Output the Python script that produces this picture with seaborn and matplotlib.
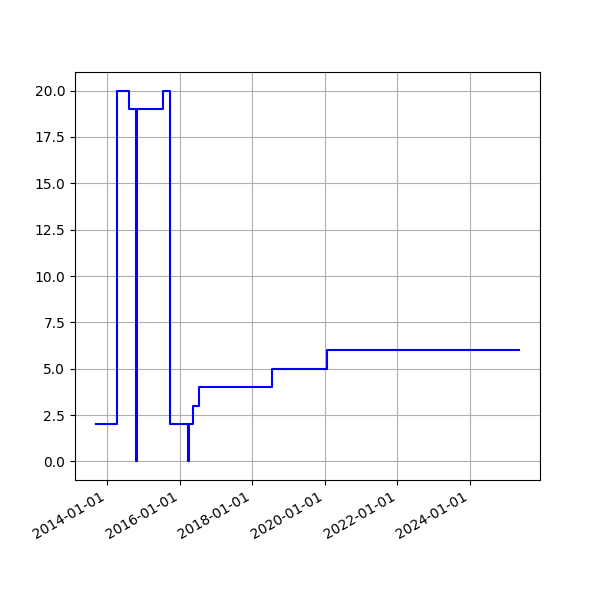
import matplotlib
matplotlib.use("Agg")
import matplotlib.pyplot as plt
import matplotlib.dates as mdates
import pandas as pd
import seaborn as sns

dates = [
    "2013-09-13", "2014-04-15", "2014-08-10", "2014-10-24", "2014-10-29",
    "2015-07-17", "2015-09-24", "2016-03-28", "2016-04-09", "2016-05-13",
    "2016-07-12", "2018-07-14", "2020-01-26", "2025-05-07",
]
values = [2, 20, 19, 0, 19, 20, 2, 0, 2, 3, 4, 5, 6, 6]

df = pd.DataFrame({"date": pd.to_datetime(dates), "value": values})

fig, ax = plt.subplots(figsize=(6, 6), dpi=100)
sns.lineplot(data=df, x="date", y="value", ax=ax, color="blue",
             drawstyle="steps-post", estimator=None, sort=False, linewidth=1.5)
ax.set_xlabel("")
ax.set_ylabel("")
ax.grid(True)
ax.xaxis.set_major_locator(mdates.YearLocator(2))
ax.xaxis.set_major_formatter(mdates.DateFormatter("%Y-%m-%d"))
fig.autofmt_xdate()
fig.savefig("out.png", dpi=100)
